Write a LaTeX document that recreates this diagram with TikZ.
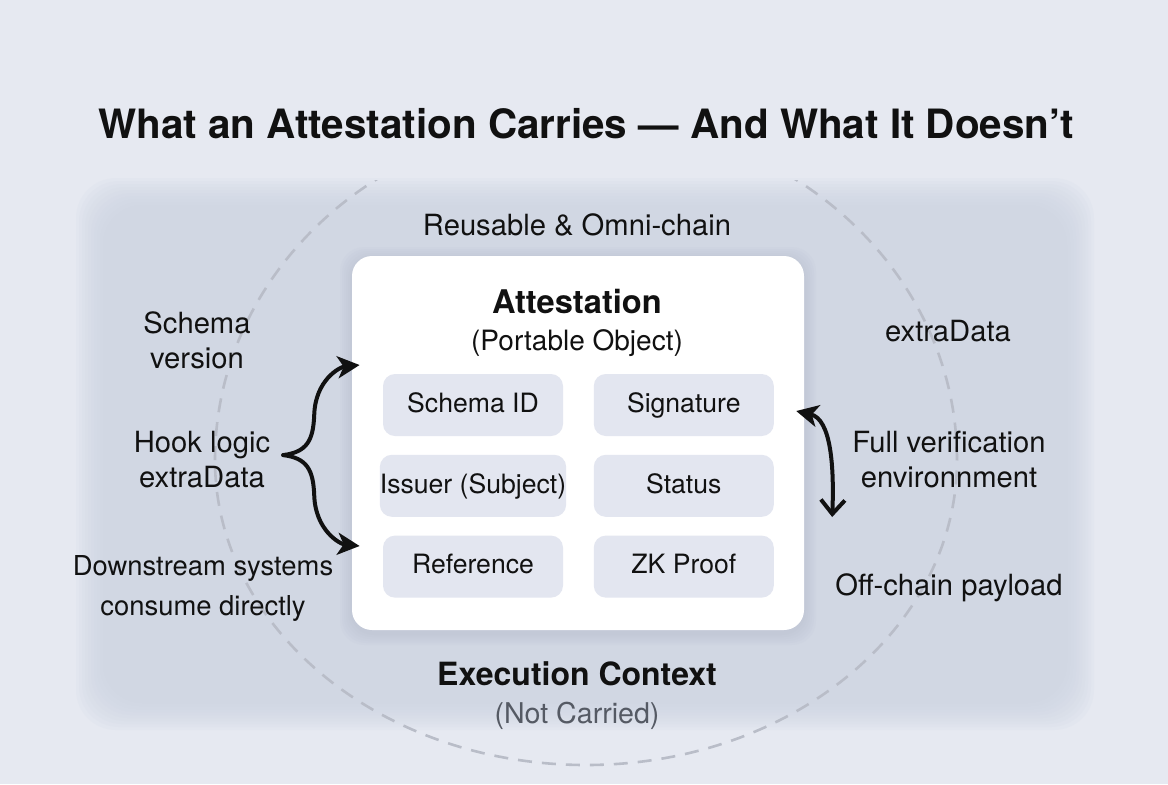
\documentclass[tikz,border=0pt]{standalone}
\usepackage{fontspec}
\setmainfont{TeX Gyre Heros}
\usetikzlibrary{arrows.meta,positioning}
\definecolor{bgc}{HTML}{E6E9F1}
\definecolor{panelc}{HTML}{CDD3E2}
\definecolor{chipc}{HTML}{E3E6F0}
\definecolor{dashc}{HTML}{B9BDC8}
\definecolor{subc}{HTML}{555A64}
\definecolor{shadc}{HTML}{A9B0C2}
\definecolor{inkc}{HTML}{111111}
\begin{document}
\begin{tikzpicture}[x=0.5pt,y=-0.5pt, text=inkc,
  lbl/.style={font=\fontsize{14.6}{17.5}\selectfont, align=center, anchor=base},
  chip/.style={fill=chipc, rounded corners=6pt, minimum width=90pt, minimum height=31pt, inner sep=0pt,
    font=\fontsize{13.3}{16}\selectfont, text height=0.72em, text depth=0pt},
  arr/.style={line width=2pt, line cap=round, draw=inkc}]
\useasboundingbox (0,0) rectangle (1168,784);
\fill[bgc] (0,0) rectangle (1168,784);
% soft panel
\foreach \i in {0,...,9}
  \fill[panelc, fill opacity=0.12, rounded corners=20pt] (76+3*\i,178+3*\i) rectangle (1094-3*\i,730-3*\i);
\begin{scope}
\clip (0,180) rectangle (1168,784);
\draw[dashc, line width=1.3pt, dash pattern=on 7pt off 5pt] (215,460) arc[start angle=180, end angle=360, x radius=371, y radius=340]
  arc[start angle=0, end angle=180, x radius=371, y radius=305];
\end{scope}
% card + shadow
\foreach \i in {1,...,6}
  \fill[shadc, fill opacity=0.06, rounded corners=12pt] (352-2*\i,259-2*\i) rectangle (804+2*\i,633+2*\i);
\node[fill=white, rounded corners=10pt, minimum width=226pt, minimum height=187pt, inner sep=0pt] (card) at (578,443) {};

\node[lbl, font=\bfseries\fontsize{20.2}{24}\selectfont] (title) at (586,138) {What an Attestation Carries — And What It Doesn’t};
\node[lbl] (reuse) at (577,235) {Reusable \& Omni-chain};
\node[lbl, font=\bfseries\fontsize{16.3}{20}\selectfont] (att) at (577,313) {Attestation};
\node[lbl, font=\fontsize{14}{17}\selectfont] (port) at (577,350) {(Portable Object)};

\node[chip] (sid) at (473,405) {Schema ID};
\node[chip, right=15pt of sid] (sig) {Signature};
\node[chip, below=9pt of sid] (iss) {Issuer (Subject)};
\node[chip, below=9pt of sig] (sta) {Status};
\node[chip, below=9pt of iss] (ref) {Reference};
\node[chip, below=9pt of sta] (zkp) {ZK Proof};

% base = last line
\node[lbl] (schv) at (197,368) {Schema\\version};
\node[lbl] (hook) at (202,487) {Hook logic\\extraData};
\node[lbl, font=\fontsize{13.7}{20}\selectfont] (dwn) at (203,615) {Downstream systems\\consume directly};
\node[lbl] (xd) at (948,341) {extraData};
\node[lbl] (fve) at (949,487) {Full verification\\environnment};
\node[lbl] (ocp) at (949,595) {Off-chain payload};
\node[lbl, font=\bfseries\fontsize{16}{20}\selectfont] (exec) at (577,685) {Execution Context};
\node[lbl, text=subc, font=\fontsize{14.3}{17}\selectfont] (notc) at (577,723) {(Not Carried)};

% brace into the card
\coordinate (bt) at ([shift={(6,-4)}]hook.east);
\coordinate (ut) at ([shift={(8,-78)}]card.west);
\coordinate (lt) at ([shift={(8,103)}]card.west);
\draw[arr, -{Stealth[length=11pt,width=11pt,inset=3pt]}] (bt) .. controls +(24,-3) and +(-1,25) .. ++(31,-40) .. controls +(1,-35) and +(-20,2) .. (ut);
\draw[arr, -{Stealth[length=11pt,width=11pt,inset=3pt]}] (bt) .. controls +(24,3) and +(-1,-25) .. ++(31,40) .. controls +(1,35) and +(-20,-2) .. (lt);
% two-way on the right
\coordinate (rt) at ([shift={(22,6)}]sig.east);
\coordinate (rb) at ([shift={(58,112)}]sig.east);
\draw[arr, {Stealth[length=11pt,width=11pt,inset=3pt]}-{Straight Barb[length=7pt,width=12pt]}] (rt) .. controls +(35,8) and +(2,-50) .. (rb);
\end{tikzpicture}
\end{document}
